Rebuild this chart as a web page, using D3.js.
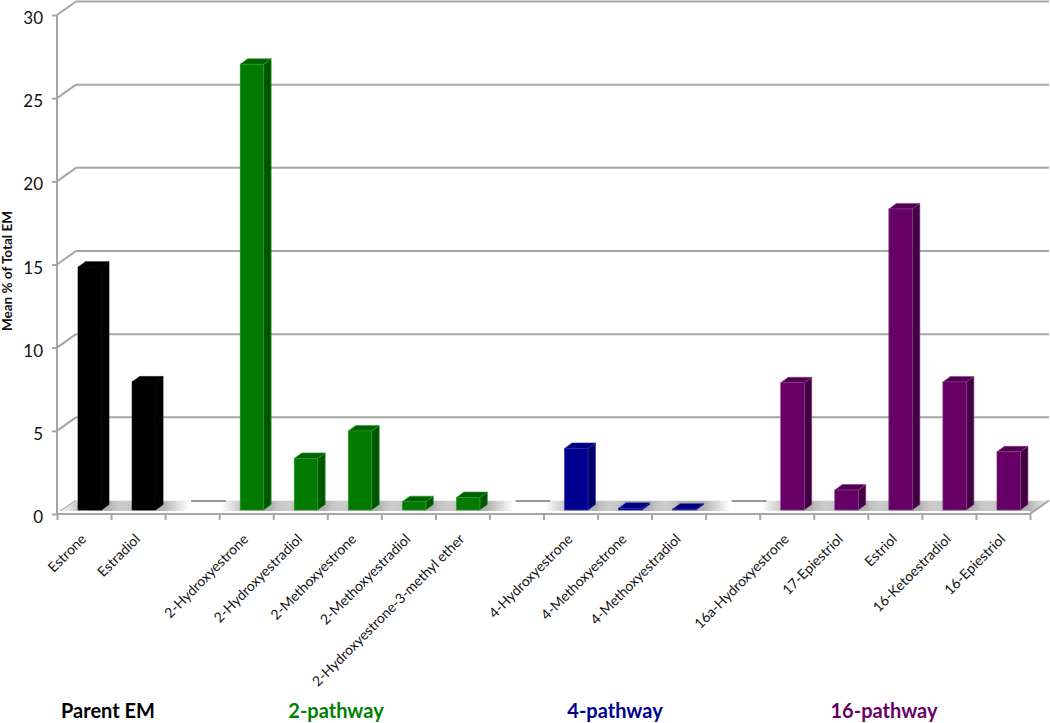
<!DOCTYPE html>
<html>
<head>
<meta charset="utf-8">
<script src="https://cdn.jsdelivr.net/npm/d3@7"></script>
<style>
  html, body { margin: 0; padding: 0; background: #fff; }
  text { font-family: Lato, "Open Sans", sans-serif; fill: #111; }
</style>
</head>
<body>
<div id="chart"></div>
<script>
// blank entries are the gaps between the pathway groups
const categories = ["Estrone", "Estradiol", "",
  "2-Hydroxyestrone", "2-Hydroxyestradiol", "2-Methoxyestrone", "2-Methoxyestradiol", "2-Hydroxyestrone-3-methyl ether", "",
  "4-Hydroxyestrone", "4-Methoxyestrone", "4-Methoxyestradiol", "",
  "16a-Hydroxyestrone", "17-Epiestriol", "Estriol", "16-Ketoestradiol", "16-Epiestriol"];
const values = [14.6, 7.7, null,
  26.8, 3.1, 4.75, 0.5, 0.75, null,
  3.7, 0.1, 0.05, null,
  7.65, 1.2, 18.1, 7.7, 3.5];
const groupOf = [0, 0, null, 1, 1, 1, 1, 1, null, 2, 2, 2, null, 3, 3, 3, 3, 3];
const groupNames = ["Parent EM", "2-pathway", "4-pathway", "16-pathway"];
const groupFront = ["#000000", "#007a00", "#000090", "#660066"];
const groupSide = ["#000000", "#005500", "#00006a", "#420042"];
const groupTop = ["#000000", "#006300", "#00007c", "#520052"];
const groupEdge = ["#000000", "#2c9c2c", "#2c2cb0", "#8c3c8c"];
const groupText = ["#000000", "#008000", "#000090", "#660066"];
const yTicks = [0, 5, 10, 15, 20, 25, 30];

const width = 1050, height = 723;
const depthX = 19, depthY = 13.5;      // wall offset of the 3d box
const barDx = 7.5, barDy = 5.5;        // depth of a bar
const axisColor = "#a6a6a6";

const svg = d3.select("#chart").append("svg")
  .attr("width", width)
  .attr("height", height);

const x = d3.scaleBand()
  .domain(d3.range(categories.length))
  .range([57, 1030]);

const y = d3.scaleLinear()
  .domain([0, 30])
  .range([514, 15]);

// Walls: gridlines at the back and the diagonals to the y axis
const grid = svg.append("g");
grid.selectAll("line.back")
  .data(yTicks.filter(d => d > 0))
  .join("line")
    .attr("class", "back")
    .attr("x1", x.range()[0] + depthX)
    .attr("x2", x.range()[1] + depthX)
    .attr("y1", d => y(d) - depthY)
    .attr("y2", d => y(d) - depthY)
    .attr("stroke", axisColor)
    .attr("stroke-width", 2);
grid.selectAll("line.diag")
  .data(yTicks)
  .join("line")
    .attr("class", "diag")
    .attr("x1", x.range()[0])
    .attr("x2", x.range()[0] + depthX)
    .attr("y1", d => y(d))
    .attr("y2", d => y(d) - depthY)
    .attr("stroke", axisColor)
    .attr("stroke-width", 2);

// Floor with soft grey shading around each bar
const defs = svg.append("defs");
const shade = defs.append("linearGradient").attr("id", "shade");
shade.append("stop").attr("offset", "0%").attr("stop-color", "#b0b0b0").attr("stop-opacity", 0);
shade.append("stop").attr("offset", "35%").attr("stop-color", "#b0b0b0").attr("stop-opacity", 1);
shade.append("stop").attr("offset", "65%").attr("stop-color", "#b0b0b0").attr("stop-opacity", 1);
shade.append("stop").attr("offset", "100%").attr("stop-color", "#b0b0b0").attr("stop-opacity", 0);

const x0 = x.range()[0], x1 = x.range()[1], floorY = y(0);
const floorPath = `M${x0},${floorY}L${x0 + depthX},${floorY - depthY}L${x1 + depthX},${floorY - depthY}L${x1},${floorY}Z`;
defs.append("clipPath").attr("id", "floorClip").append("path").attr("d", floorPath);
svg.append("path").attr("d", floorPath).attr("fill", "#fff");

svg.append("g").attr("clip-path", "url(#floorClip)")
  .selectAll("rect")
  .data(categories.map((c, i) => i).filter(i => values[i] !== null))
  .join("rect")
    .attr("x", i => x(i) + 2)
    .attr("width", 76)
    .attr("y", floorY - depthY)
    .attr("height", depthY)
    .attr("fill", "url(#shade)");

// back edge of the floor, only showing in the gaps
svg.selectAll("line.gap")
  .data(categories.map((c, i) => i).filter(i => values[i] === null))
  .join("line")
    .attr("class", "gap")
    .attr("x1", i => x(i) + 26)
    .attr("x2", i => x(i) + 61)
    .attr("y1", floorY - depthY + 0.5)
    .attr("y2", floorY - depthY + 0.5)
    .attr("stroke", "#999")
    .attr("stroke-width", 2);

// Front white lip of the floor
svg.append("rect")
  .attr("x", x0).attr("width", x1 - x0)
  .attr("y", floorY - 3).attr("height", 3)
  .attr("fill", "#fff");

// Axes
const xAxis = svg.append("g")
  .attr("transform", `translate(0,${floorY})`)
  .call(d3.axisBottom(d3.scaleLinear().domain([0, categories.length]).range(x.range()))
    .tickValues(d3.range(categories.length + 1))
    .tickSize(6)
    .tickFormat(""));
xAxis.selectAll("path, line").attr("stroke", axisColor).attr("stroke-width", 2);
xAxis.select(".domain").attr("d", `M${x0},0H${x1}`);

const yAxis = svg.append("g")
  .attr("transform", `translate(${x0},0)`)
  .call(d3.axisLeft(y).tickValues(yTicks).tickSize(5).tickPadding(9));
yAxis.selectAll("path, line").attr("stroke", axisColor).attr("stroke-width", 2);
yAxis.select(".domain").attr("d", `M0,${y(30)}V${floorY}`);
yAxis.selectAll("text")
  .attr("dy", "0.5em")
  .style("font-family", "Lato, sans-serif")
  .style("font-size", "17px");

svg.append("line")
  .attr("x1", x1).attr("x2", x1 + depthX)
  .attr("y1", floorY).attr("y2", floorY - depthY)
  .attr("stroke", axisColor).attr("stroke-width", 2);

// Bars: front, top and side face
const bars = svg.append("g")
  .selectAll("g")
  .data(categories.map((c, i) => i).filter(i => values[i] !== null))
  .join("g")
    .attr("transform", i => `translate(${x(i) + 21},0)`);

const base = y(0) - 4;
const barW = 23.5;
const barTop = i => base - (y(0) - y(values[i]));

bars.append("path")
  .attr("d", i => `M${barW},${barTop(i)}L${barW + barDx},${barTop(i) - barDy}V${base - barDy}L${barW},${base}Z`)
  .attr("fill", i => groupSide[groupOf[i]])
  .attr("stroke", i => groupEdge[groupOf[i]])
  .attr("stroke-width", 0.6);
bars.append("path")
  .attr("d", i => `M0,${barTop(i)}L${barDx},${barTop(i) - barDy}H${barW + barDx}L${barW},${barTop(i)}Z`)
  .attr("fill", i => groupTop[groupOf[i]])
  .attr("stroke", i => groupEdge[groupOf[i]])
  .attr("stroke-width", 0.6);
bars.append("rect")
  .attr("x", 0)
  .attr("y", i => barTop(i))
  .attr("width", barW)
  .attr("height", i => base - barTop(i))
  .attr("fill", i => groupFront[groupOf[i]])
  .attr("stroke", i => groupEdge[groupOf[i]])
  .attr("stroke-width", 0.6);

// Category labels
svg.append("g")
  .selectAll("text")
  .data(categories.map((c, i) => i).filter(i => categories[i] !== ""))
  .join("text")
    .attr("transform", i => `translate(${x(i) + x.bandwidth() / 2 + 3},${floorY + 26}) rotate(-45)`)
    .attr("text-anchor", "end")
    .style("font-size", "14px")
    .text(i => categories[i]);

svg.append("text")
  .attr("transform", `translate(12,271) rotate(-90)`)
  .attr("text-anchor", "middle")
  .style("font-size", "13.5px")
  .style("font-weight", "bold")
  .text("Mean % of Total EM");

// Group captions, positions tuned by eye
const captionX = [108, 336, 615, 884];
svg.append("g")
  .selectAll("text")
  .data(groupNames)
  .join("text")
    .attr("x", (d, i) => captionX[i])
    .attr("y", 718)
    .attr("text-anchor", "middle")
    .style("font-size", "20px")
    .style("font-weight", "bold")
    .style("fill", (d, i) => groupText[i])
    .text(d => d);
</script>
</body>
</html>
